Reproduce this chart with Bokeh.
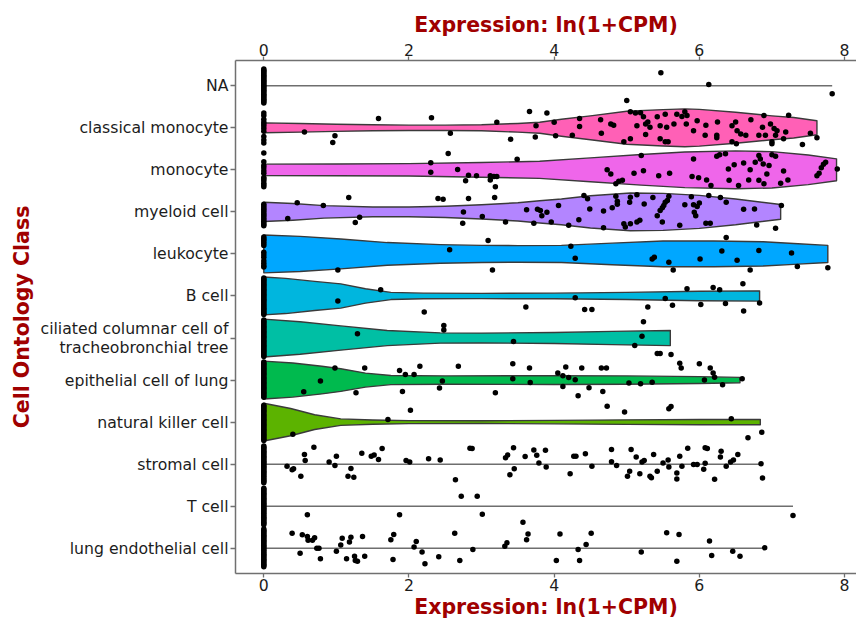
from bokeh.plotting import figure
from bokeh.models import Range1d, LinearAxis, FixedTicker, ColumnDataSource
from bokeh.embed import file_html
from bokeh.resources import INLINE

# ---------------- data ----------------
categories = ["NA", "classical monocyte", "monocyte", "myeloid cell", "leukocyte", "B cell",
              "ciliated columnar cell of\ntracheobronchial tree", "epithelial cell of lung",
              "natural killer cell", "stromal cell", "T cell", "lung endothelial cell"]
x_ticks = [0, 2, 4, 6, 8]
x_title = "Expression: ln(1+CPM)"
y_title = "Cell Ontology Class"

violin_colors = {
    "classical monocyte": "#FF60B6",
    "monocyte": "#EF66EA",
    "myeloid cell": "#B385FF",
    "leukocyte": "#00A7FF",
    "B cell": "#00B6DE",
    "ciliated columnar cell of\ntracheobronchial tree": "#00BFA4",
    "epithelial cell of lung": "#00BA4E",
    "natural killer cell": "#5CB300",
}

# violin density profiles (relative width, 1 = widest)
classical_monocyte_kx = [0, 0.5, 1, 1.5, 2, 2.5, 3, 3.5, 3.8, 4.1, 4.5, 5.0, 5.5, 5.8, 6.0, 6.5, 7.0, 7.3, 7.62]
classical_monocyte_kd = [0.26, 0.23, 0.19, 0.16, 0.14, 0.14, 0.16, 0.23, 0.29, 0.45, 0.63, 0.87, 0.96, 1.0, 0.97, 0.82, 0.63, 0.54, 0.37]
monocyte_kx = [0, 1, 2, 3, 3.8, 4.5, 5.2, 5.8, 6.5, 7.0, 7.5, 7.89]
monocyte_kd = [0.30, 0.31, 0.33, 0.39, 0.45, 0.63, 0.81, 0.94, 1.0, 0.96, 0.78, 0.58]
myeloid_kx = [0, 0.4, 0.83, 1.5, 2, 2.5, 3, 3.5, 3.8, 4.1, 4.5, 5.05, 5.5, 6.0, 6.5, 7.12]
myeloid_kd = [0.51, 0.44, 0.33, 0.26, 0.26, 0.30, 0.38, 0.48, 0.59, 0.68, 0.85, 1.0, 0.98, 0.87, 0.68, 0.39]
leukocyte_kx = [0, 0.5, 1.06, 1.7, 2.43, 3, 3.5, 4.1, 4.8, 5.5, 6.2, 6.88, 7.3, 7.77]
leukocyte_kd = [1.0, 0.93, 0.79, 0.60, 0.49, 0.45, 0.44, 0.45, 0.57, 0.68, 0.68, 0.64, 0.55, 0.45]
b_cell_kx = [0, 0.3, 0.7, 1.06, 1.4, 1.75, 2.2, 3, 4, 5, 6, 6.83]
b_cell_kd = [1.0, 0.93, 0.77, 0.64, 0.38, 0.19, 0.15, 0.14, 0.15, 0.19, 0.25, 0.27]
ciliated_kx = [0, 0.5, 1.06, 1.7, 2.43, 3, 4, 4.8, 5.6]
ciliated_kd = [1.0, 0.86, 0.64, 0.40, 0.27, 0.26, 0.29, 0.35, 0.40]
epithelial_kx = [0, 0.4, 0.8, 1.06, 1.4, 1.75, 2.5, 4, 5, 6, 6.56]
epithelial_kd = [1.0, 0.90, 0.73, 0.60, 0.37, 0.24, 0.22, 0.23, 0.22, 0.18, 0.14]
nk_kx = [0, 0.37, 0.7, 1.06, 1.5, 2, 3, 4, 5, 6, 6.84]
nk_kd = [1.0, 0.72, 0.39, 0.17, 0.11, 0.08, 0.07, 0.09, 0.12, 0.14, 0.14]

# non-zero cells: expression value and jitter offset within the row
na_x = [5.47, 6.13, 7.83, 5.0]
na_j = [-0.31, -0.03, 0.19, 0.35]
classical_monocyte_x = [0.56, 0.98, 0.95, 1.58, 2.31, 2.57, 3.21, 3.40, 3.66, 3.90, 3.75, 3.74, 4.0, 4.02,
                        4.25, 4.65, 4.96, 5.05, 5.26, 5.46, 5.53, 5.57, 6.08, 6.24, 6.24, 6.45, 6.51, 6.64,
                        6.82, 6.91, 7.0, 7.0, 7.05, 7.16, 7.19, 7.42, 7.53, 7.62,
                        4.35, 4.35, 4.64, 4.78, 4.82, 5.05, 5.12, 5.14, 5.19, 5.23, 5.26, 5.29, 5.32, 5.42,
                        5.46, 5.53, 5.55, 5.65, 5.69, 5.76, 5.80, 5.82, 5.83, 5.92, 5.97, 6.09, 6.25, 6.45,
                        6.50, 6.52, 6.57, 6.71, 6.87, 6.89, 6.98, 7.03, 7.07, 7.23]
classical_monocyte_j = [0.10, 0.19, 0.35, -0.22, -0.24, 0.13, -0.13, 0.27, -0.39, -0.35, -0.05, 0.22, -0.13, 0.19,
                        0.18, 0.13, 0.33, 0.26, 0.16, 0.26, 0.33, 0.33, 0.18, 0.18, 0.24, 0.33, 0.38, 0.18,
                        0.18, 0.18, 0.33, 0.38, 0.18, 0.26, 0.10, 0.40, 0.13, 0.24,
                        -0.22, -0.03, -0.19, -0.09, -0.06, -0.38, -0.35, -0.05, -0.36, -0.26, -0.09, -0.14, -0.01, -0.26,
                        -0.05, -0.32, -0.01, -0.09, -0.32, -0.27, -0.38, -0.09, -0.29, 0.07, -0.17, -0.06, -0.14, -0.05,
                        -0.14, 0.07, 0.15, -0.19, -0.01, -0.29, -0.09, 0.02, 0.07, -0.30]
monocyte_x = [2.30, 2.30, 2.54, 2.67, 2.82, 2.78, 2.93, 3.12, 3.12, 3.17, 3.21, 3.19, 3.49, 4.73, 4.78, 5.10,
              5.23, 5.20, 5.44, 5.59, 4.85, 4.89, 4.94, 5.92, 5.90, 5.99, 6.10, 6.16, 6.24, 6.28, 6.36, 6.40,
              6.48, 6.41, 6.54, 6.61, 6.68, 6.70, 6.77, 6.82, 6.84, 6.88, 6.82, 6.89, 6.93, 6.96, 7.0, 7.05,
              7.12, 7.16, 7.22, 7.62, 7.65, 7.68, 7.71, 7.74, 7.90]
monocyte_j = [-0.17, 0.06, -0.39, -0.01, 0.13, 0.26, 0.14, 0.14, 0.24, 0.16, 0.16, 0.40, -0.25, 0.0, 0.10, 0.08,
              0.02, -0.34, 0.14, 0.08, 0.33, 0.27, 0.25, -0.26, 0.16, 0.19, 0.24, 0.37, -0.32, -0.36, -0.38, -0.02,
              -0.12, 0.25, 0.37, -0.16, 0.24, 0.0, -0.18, -0.34, -0.26, -0.14, 0.25, 0.33, 0.10, -0.10, -0.36, -0.32,
              0.32, 0.03, 0.24, 0.14, 0.08, -0.05, -0.13, -0.18, -0.02]
myeloid_x = [0.46, 0.33, 0.82, 1.17, 1.32, 1.26, 2.40, 2.47, 2.82, 3.18, 2.75, 2.74, 3.01, 3.33, 3.62, 3.77,
             3.81, 3.83, 3.72, 3.96, 4.06, 3.90, 4.34, 4.20, 4.41, 4.46, 4.49, 4.68, 4.68, 4.80, 4.85, 4.87,
             4.87, 4.96, 4.98, 5.05, 5.14, 5.18, 5.04, 5.05, 5.14, 5.24, 5.36, 5.42, 5.46, 5.49, 5.51, 5.53,
             5.56, 5.49, 5.58, 5.73, 5.80, 5.89, 5.92, 5.97, 6.0, 5.93, 5.95, 6.09, 6.15, 6.13, 6.29, 6.37,
             6.61, 6.76, 6.79, 7.05, 7.13]
myeloid_j = [-0.22, 0.16, -0.15, -0.34, 0.13, 0.25, -0.32, -0.30, -0.32, -0.34, 0.0, 0.27, 0.11, 0.24, -0.05, -0.06,
             -0.03, 0.09, 0.27, 0.24, -0.15, 0.01, 0.19, 0.32, -0.39, -0.31, -0.07, -0.02, 0.38, -0.10, -0.37, -0.25,
             -0.18, 0.28, 0.36, 0.28, 0.24, 0.20, -0.23, -0.35, -0.41, -0.19, -0.34, 0.09, -0.03, -0.10, -0.15, -0.23,
             -0.27, 0.24, -0.37, 0.32, -0.17, -0.36, -0.17, -0.13, -0.21, 0.01, 0.09, 0.27, 0.27, -0.39, -0.34, -0.23,
             -0.06, -0.07, 0.31, 0.39, -0.15]
leukocyte_x = [1.02, 2.56, 3.09, 3.15, 4.23, 4.29, 5.35, 5.38, 5.58, 5.64, 6.01, 6.37, 6.31, 6.52, 6.70, 6.82,
               7.27, 7.35, 7.77]
leukocyte_j = [0.38, -0.10, -0.32, 0.38, -0.18, 0.10, 0.12, 0.08, 0.20, 0.38, 0.12, -0.39, -0.07, 0.15, 0.38, -0.08,
               -0.02, 0.30, 0.33]
b_cell_x = [1.02, 1.61, 2.21, 3.61, 4.29, 4.42, 4.52, 5.29, 5.53, 5.63, 5.83, 6.02, 6.19, 6.28, 6.36, 6.60,
            6.61, 6.83]
b_cell_j = [0.12, -0.15, 0.38, 0.26, 0.04, 0.32, 0.32, 0.26, 0.06, 0.22, -0.17, 0.20, -0.20, -0.15, 0.18, -0.29,
            0.36, 0.17]
ciliated_x = [1.29, 2.48, 2.48, 3.44, 5.21, 5.11, 5.42, 5.46, 5.61, 5.23]
ciliated_j = [-0.10, -0.30, -0.19, 0.08, -0.04, 0.18, 0.37, 0.37, 0.39, -0.39]
epithelial_x = [0.55, 0.78, 0.98, 1.27, 1.39, 1.87, 1.95, 2.07, 1.91, 2.15, 2.42, 2.46, 2.68, 3.19, 3.43, 3.43,
                3.66, 3.67, 4.05, 4.12, 4.16, 4.20, 4.29, 4.12, 4.33, 4.38, 4.48, 4.65, 4.72, 4.67, 5.03, 5.19,
                5.35, 5.73, 5.75, 6.0, 6.07, 6.15, 6.19, 6.21, 6.32, 6.59]
epithelial_j = [0.28, 0.02, -0.29, 0.30, -0.29, -0.23, -0.13, -0.13, 0.27, -0.33, 0.19, 0.02, -0.33, 0.30, -0.39, -0.03,
                -0.29, 0.06, -0.17, -0.10, -0.31, -0.06, -0.01, 0.15, 0.37, -0.29, 0.18, -0.29, -0.29, 0.27, 0.07, 0.09,
                0.05, -0.40, -0.29, -0.39, 0.0, -0.29, -0.17, -0.07, 0.11, -0.03]
nk_x = [0.40, 1.71, 2.02, 4.73, 4.97, 5.58, 5.61, 6.44, 6.67, 6.86]
nk_j = [0.29, -0.06, -0.28, -0.38, -0.24, -0.32, -0.37, -0.08, 0.37, 0.24]
stromal_x = [0.32, 0.39, 0.41, 0.51, 0.56, 0.57, 0.69, 0.90, 0.98, 1.0, 1.16, 1.24, 1.20, 1.35, 1.48, 1.52,
             1.58, 1.63, 1.96, 2.01, 2.27, 2.43, 2.64, 2.84, 2.87, 3.33, 3.36, 3.39, 3.44, 3.45, 3.60, 3.72,
             3.76, 3.79, 3.88, 3.89, 4.22, 4.27, 4.30, 4.43, 4.52, 4.79, 4.79, 4.86, 5.01, 5.04, 5.06, 5.13,
             5.18, 5.21, 5.24, 5.32, 5.34, 5.37, 5.42, 5.50, 5.57, 5.58, 5.69, 5.69, 5.73, 5.76, 5.84, 5.92,
             5.97, 6.06, 6.08, 6.08, 6.11, 6.21, 6.29, 6.30, 6.37, 6.43, 6.47, 6.53, 6.85, 6.87]
stromal_j = [0.05, 0.13, 0.11, 0.29, -0.23, -0.09, -0.40, -0.05, 0.03, -0.19, 0.29, 0.31, 0.10, -0.26, -0.19, -0.22,
             -0.11, -0.37, -0.09, -0.05, -0.13, -0.10, 0.37, -0.38, -0.37, -0.15, -0.22, 0.25, -0.39, 0.11, -0.18, -0.34,
             -0.21, -0.03, -0.33, 0.07, 0.23, -0.19, -0.19, -0.25, 0.05, -0.35, -0.06, 0.03, 0.29, 0.17, -0.35, -0.17,
             0.23, -0.05, -0.09, 0.29, 0.32, -0.23, 0.17, -0.03, -0.10, 0.07, 0.21, 0.35, -0.19, 0.05, -0.38, 0.01,
             0.01, 0.12, -0.02, -0.39, -0.37, 0.36, -0.17, -0.31, 0.05, -0.05, -0.10, -0.23, -0.01, 0.33]
t_cell_x = [0.60, 1.87, 2.72, 2.94, 3.01, 3.57, 7.29]
t_cell_j = [0.20, 0.20, -0.24, -0.24, 0.19, 0.38, 0.22]
lung_endothelial_x = [0.39, 0.50, 0.53, 0.60, 0.61, 0.67, 0.70, 0.73, 0.76, 0.78, 1.0, 1.06, 1.08, 1.14, 1.18,
                      1.20, 1.25, 1.26, 1.29, 1.36, 1.39, 1.75, 1.79, 1.78, 2.07, 2.10, 2.18, 2.22, 2.41, 2.63,
                      2.70, 2.88, 3.32, 3.35, 3.64, 3.62, 4.03, 4.08, 4.33, 4.35, 4.44, 4.51, 5.20, 5.55, 5.69,
                      5.72, 6.14, 6.17, 6.46, 6.56, 6.90]
lung_endothelial_j = [-0.36, 0.12, -0.32, -0.28, -0.19, -0.19, -0.25, 0.0, 0.0, 0.25, 0.07, -0.08, -0.24, 0.25, -0.15,
                      -0.26, 0.19, 0.29, 0.31, -0.28, 0.19, -0.20, -0.33, 0.27, -0.03, -0.16, 0.09, 0.37, 0.20, -0.36,
                      0.29, 0.03, -0.05, -0.13, -0.34, -0.20, 0.29, -0.34, 0.03, 0.29, -0.09, -0.36, 0.09, -0.37, 0.31,
                      -0.33, -0.17, 0.17, 0.07, 0.19, -0.01]

# zero-expression cells: jitter offsets
full_bar = [-0.43, -0.40, -0.37, -0.34, -0.31, -0.28, -0.25, -0.22, -0.19, -0.16, -0.13, -0.10, -0.07, -0.04,
            -0.01, 0.02, 0.05, 0.08, 0.11, 0.14, 0.17, 0.20, 0.23, 0.26, 0.29, 0.32, 0.35, 0.38, 0.41, 0.44]
na_zero_j = full_bar[1:-1]
classical_monocyte_zero_j = [-0.35, -0.29, -0.20, -0.14, -0.09, -0.04, 0.02, 0.08, 0.21, 0.29, 0.36]
monocyte_zero_j = [-0.40, -0.19, -0.10, -0.05, 0.02, 0.08, 0.18, 0.22, 0.26, 0.32, 0.36, 0.40]
myeloid_zero_j = [-0.18, -0.14, -0.10, -0.06, -0.02, 0.02, 0.06, 0.10, 0.14, 0.18, 0.22, 0.26, 0.30, 0.33]
leukocyte_zero_j = [-0.40, -0.36, -0.33, -0.29, -0.25, -0.20, -0.04, 0.02, 0.08, 0.16, 0.22, 0.28, 0.31]
b_cell_zero_j = full_bar[:]
ciliated_zero_j = full_bar[:]
epithelial_zero_j = full_bar[:-1]
nk_zero_j = full_bar[1:]
stromal_zero_j = full_bar[:]
t_cell_zero_j = full_bar[:]
lung_endothelial_zero_j = [-0.46] + full_bar[:]

points = [
    (na_x, na_j, na_zero_j),
    (classical_monocyte_x, classical_monocyte_j, classical_monocyte_zero_j),
    (monocyte_x, monocyte_j, monocyte_zero_j),
    (myeloid_x, myeloid_j, myeloid_zero_j),
    (leukocyte_x, leukocyte_j, leukocyte_zero_j),
    (b_cell_x, b_cell_j, b_cell_zero_j),
    (ciliated_x, ciliated_j, ciliated_zero_j),
    (epithelial_x, epithelial_j, epithelial_zero_j),
    (nk_x, nk_j, nk_zero_j),
    (stromal_x, stromal_j, stromal_zero_j),
    (t_cell_x, t_cell_j, t_cell_zero_j),
    (lung_endothelial_x, lung_endothelial_j, lung_endothelial_zero_j),
]
violins = {
    1: (classical_monocyte_kx, classical_monocyte_kd),
    2: (monocyte_kx, monocyte_kd),
    3: (myeloid_kx, myeloid_kd),
    4: (leukocyte_kx, leukocyte_kd),
    5: (b_cell_kx, b_cell_kd),
    6: (ciliated_kx, ciliated_kd),
    7: (epithelial_kx, epithelial_kd),
    8: (nk_kx, nk_kd),
}

# ---------------- figure ----------------
FONT = "DejaVu Sans"
RED = "#A00000"
SPINE = "#707070"
HALF = 0.45

p = figure(width=856, height=621, x_range=Range1d(-0.39, 8.165), y_range=Range1d(11.6, -0.6),
           output_backend="svg", toolbar_location=None,
           min_border_left=235, min_border_top=60, min_border_bottom=48, min_border_right=0)
p.outline_line_color = None
p.xgrid.visible = False
p.ygrid.visible = False
p.background_fill_color = "white"

# violins
vx, vy, vc = [], [], []
for i, (kx, kd) in violins.items():
    xs = list(kx) + list(kx[::-1])
    ys = [i - HALF * d for d in kd] + [i + HALF * d for d in kd[::-1]]
    vx.append(xs)
    vy.append(ys)
    vc.append(violin_colors[categories[i]])
p.patches(xs="xs", ys="ys", fill_color="c", line_color="#3a3a3a", line_width=1.4,
          line_join="round", source=ColumnDataSource(dict(xs=vx, ys=vy, c=vc)))

# degenerate violins drawn as lines
line_rows = [0, 9, 10, 11]
p.segment(x0=[0] * len(line_rows), y0=line_rows,
          x1=[max(points[i][0]) for i in line_rows], y1=line_rows,
          line_color="#6e6e6e", line_width=1.5)

# points
px, py = [], []
for i, (xv, jv, zj) in enumerate(points):
    px += list(xv)
    py += [i + j for j in jv]
    px += [0.0] * len(zj)
    py += [i + j for j in zj]
p.scatter(px, py, size=5.5, color="black", line_width=0)

# axes styling
def style_axis(ax):
    ax.axis_line_color = SPINE
    ax.axis_line_width = 1.5
    ax.major_tick_line_color = SPINE
    ax.major_tick_line_width = 1.3
    ax.minor_tick_line_color = None
    ax.major_label_text_font = FONT
    ax.major_label_text_font_size = "15.7px"
    ax.major_label_text_color = "#1c1c1c"
    ax.axis_label_text_font = FONT
    ax.axis_label_text_font_size = "20.5px"
    ax.axis_label_text_font_style = "bold"
    ax.axis_label_text_color = RED

xb = p.xaxis[0]
xb.ticker = FixedTicker(ticks=x_ticks)
xb.axis_label = x_title
xb.major_tick_out = 4
xb.major_tick_in = 0
xb.major_label_standoff = 1
xb.axis_label_standoff = 1
style_axis(xb)

xt = LinearAxis(ticker=FixedTicker(ticks=x_ticks), axis_label=x_title)
xt.major_tick_out = 4
xt.major_tick_in = 0
xt.major_label_standoff = 1
xt.axis_label_standoff = 4
style_axis(xt)
p.add_layout(xt, "above")

ya = p.yaxis[0]
ya.ticker = FixedTicker(ticks=list(range(len(categories))))
ya.major_label_overrides = {i: c for i, c in enumerate(categories)}
ya.axis_label = y_title
ya.major_tick_out = 5
ya.major_tick_in = 0
ya.major_label_standoff = 2
ya.axis_label_standoff = 4
style_axis(ya)
ya.major_label_text_line_height = 0.95

open("out.html", "w").write(file_html(p, INLINE))
